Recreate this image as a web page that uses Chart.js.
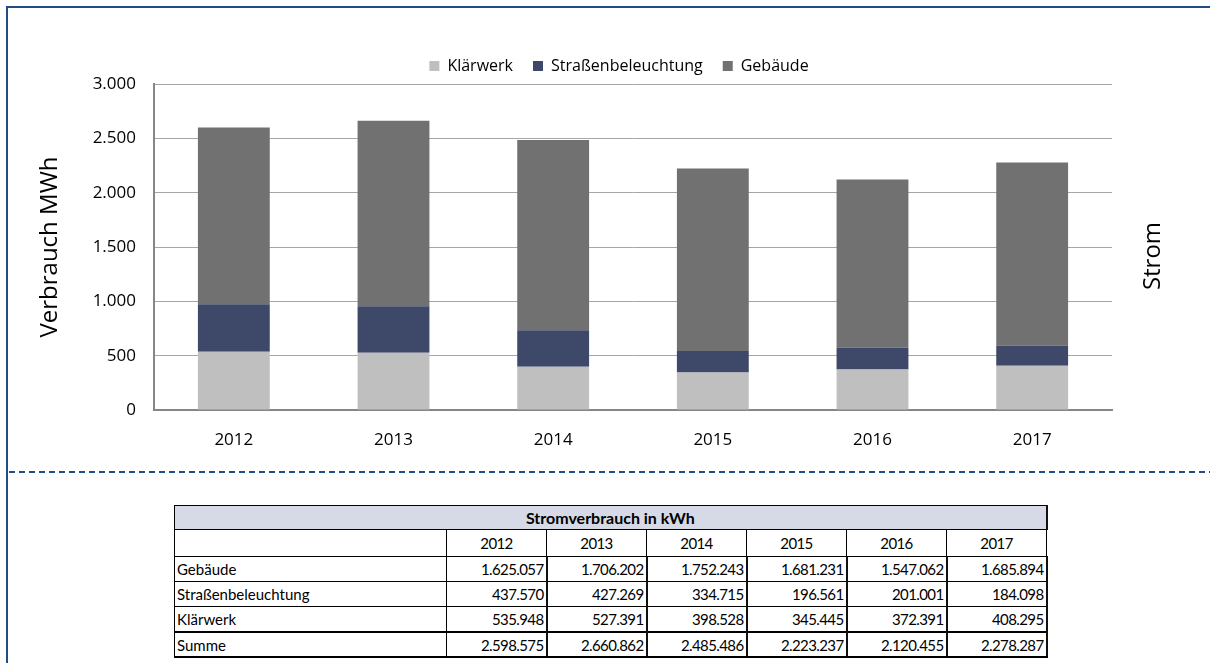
<!DOCTYPE html>
<html>
<head>
<meta charset="utf-8">
<script src="https://cdn.jsdelivr.net/npm/chart.js@4.4.0/dist/chart.umd.min.js"></script>
<style>
    body { margin: 0; background: #fff; width: 1210px; height: 663px; overflow: hidden; position: relative; font-family: 'Open Sans', sans-serif; }
    #frame { position: absolute; left: 6px; top: 6px; width: 1220px; height: 700px; border-left: 2px solid #1f4e86; border-top: 2px solid #1f4e86; }
    #chartBox { position: absolute; left: 0; top: 0; width: 1210px; height: 470px; }
    #sep { position: absolute; left: 9px; top: 471px; width: 1201px; height: 2px;
           background: repeating-linear-gradient(to right, #1f4e86 0 6px, transparent 6px 10px); }
    #tbl { position: absolute; left: 174px; top: 505px; width: 872px; border-collapse: collapse; table-layout: fixed;
           font-family: Lato, sans-serif; font-size: 15px; color: #000; }
    #tbl td { border: 1px solid #000; padding: 0 2px; white-space: nowrap; overflow: hidden; }
    #tbl td.num { text-align: right; border-right: 2px solid #111; letter-spacing: -0.6px; }
    #tbl tr.title td { background: #d6dae6; text-align: center; font-weight: bold; font-size: 16px; height: 23px; border-right: 2px solid #111; }
    #tbl tr.head td { text-align: center; height: 26px; letter-spacing: -0.6px; }
    #tbl tr.row td { height: 24px; }
    #tbl tr.sum td { border-top: 2px solid #000; border-bottom: 2px solid #000; height: 23px; }
</style>
</head>
<body>
<div id="frame"></div>
<div id="chartBox"><canvas id="myChart" width="1210" height="470"></canvas></div>
<div id="sep"></div>
<table id="tbl"></table>
<script>
    // values in kWh, as given in the table
    const years = ['2012', '2013', '2014', '2015', '2016', '2017'];
    const gebaeude = [1625057, 1706202, 1752243, 1681231, 1547062, 1685894];
    const strassen = [437570, 427269, 334715, 196561, 201001, 184098];
    const klaerwerk = [535948, 527391, 398528, 345445, 372391, 408295];
    const summe = [2598575, 2660862, 2485486, 2223237, 2120455, 2278287];
    const yTicks = [0, 500, 1000, 1500, 2000, 2500, 3000];

    // german thousands separator
    function fmt(n) {
        return String(n).replace(/\B(?=(\d{3})+(?!\d))/g, '.');
    }
    const toMWh = arr => arr.map(v => v / 1000);

    // "Strom" label on the right, reading bottom to top
    const stromLabel = {
        id: 'stromLabel',
        afterLayout(chart) {
            // legend sits a bit right of the canvas centre
            chart.legend.left += 53;
            chart.legend.right += 53;
        },
        afterDraw(chart) {
            const { ctx, chartArea } = chart;
            ctx.save();
            ctx.translate(chartArea.right + 41, (chartArea.top + chartArea.bottom) / 2 + 9);
            ctx.rotate(-Math.PI / 2);
            ctx.font = "24px 'Open Sans'";
            ctx.fillStyle = '#000';
            ctx.textAlign = 'center';
            ctx.textBaseline = 'middle';
            ctx.fillText('Strom', 0, 0);
            ctx.restore();
        }
    };

    Chart.defaults.font.family = "'Open Sans', sans-serif";
    Chart.defaults.color = '#000';

    var ctx = document.getElementById('myChart').getContext('2d');
    var myChart = new Chart(ctx, {
        type: 'bar',
        data: {
            labels: years,
            datasets: [
                { label: 'Klärwerk', data: toMWh(klaerwerk), backgroundColor: '#bfbfbf' },
                { label: 'Straßenbeleuchtung', data: toMWh(strassen), backgroundColor: '#3e4868' },
                { label: 'Gebäude', data: toMWh(gebaeude), backgroundColor: '#717171' }
            ]
        },
        options: {
            responsive: false,
            animation: false,
            layout: { padding: { top: 38, left: 20, right: 98, bottom: 10 } },
            datasets: { bar: { barPercentage: 0.45, categoryPercentage: 1 } },
            plugins: {
                legend: {
                    labels: { boxWidth: 10, boxHeight: 10, font: { size: 16 }, padding: 20 }
                },
                tooltip: { enabled: false }
            },
            scales: {
                x: {
                    stacked: true,
                    grid: { display: false },
                    border: { color: '#868686', width: 2 },
                    ticks: { font: { size: 17 }, padding: 12 },
                    afterFit(s) { s.height = 50; }
                },
                y: {
                    stacked: true,
                    min: 0,
                    max: 3000,
                    afterBuildTicks(s) { s.ticks = yTicks.map(v => ({ value: v })); },
                    ticks: { font: { size: 17 }, padding: 18, callback: v => fmt(v) },
                    grid: { color: '#a6a6a6', drawTicks: false },
                    border: { color: '#868686', width: 2 },
                    title: { display: true, text: 'Verbrauch MWh', font: { size: 24 }, padding: { top: 16, bottom: 0 } },
                    afterFit(s) { s.width = 134; }
                }
            }
        },
        plugins: [stromLabel]
    });

    // table below the chart
    const rows = [
        ['Gebäude', gebaeude, 'row'],
        ['Straßenbeleuchtung', strassen, 'row'],
        ['Klärwerk', klaerwerk, 'row'],
        ['Summe', summe, 'sum']
    ];
    let html = '<colgroup><col style="width:272px">' + years.map(() => '<col style="width:100px">').join('') + '</colgroup>';
    html += '<tr class="title"><td colspan="7">Stromverbrauch in kWh</td></tr>';
    html += '<tr class="head"><td></td>' + years.map(y => '<td>' + y + '</td>').join('') + '</tr>';
    rows.forEach(r => {
        html += '<tr class="' + r[2] + '"><td>' + r[0] + '</td>' + r[1].map(v => '<td class="num">' + fmt(v) + '</td>').join('') + '</tr>';
    });
    document.getElementById('tbl').innerHTML = html;
</script>
</body>
</html>
